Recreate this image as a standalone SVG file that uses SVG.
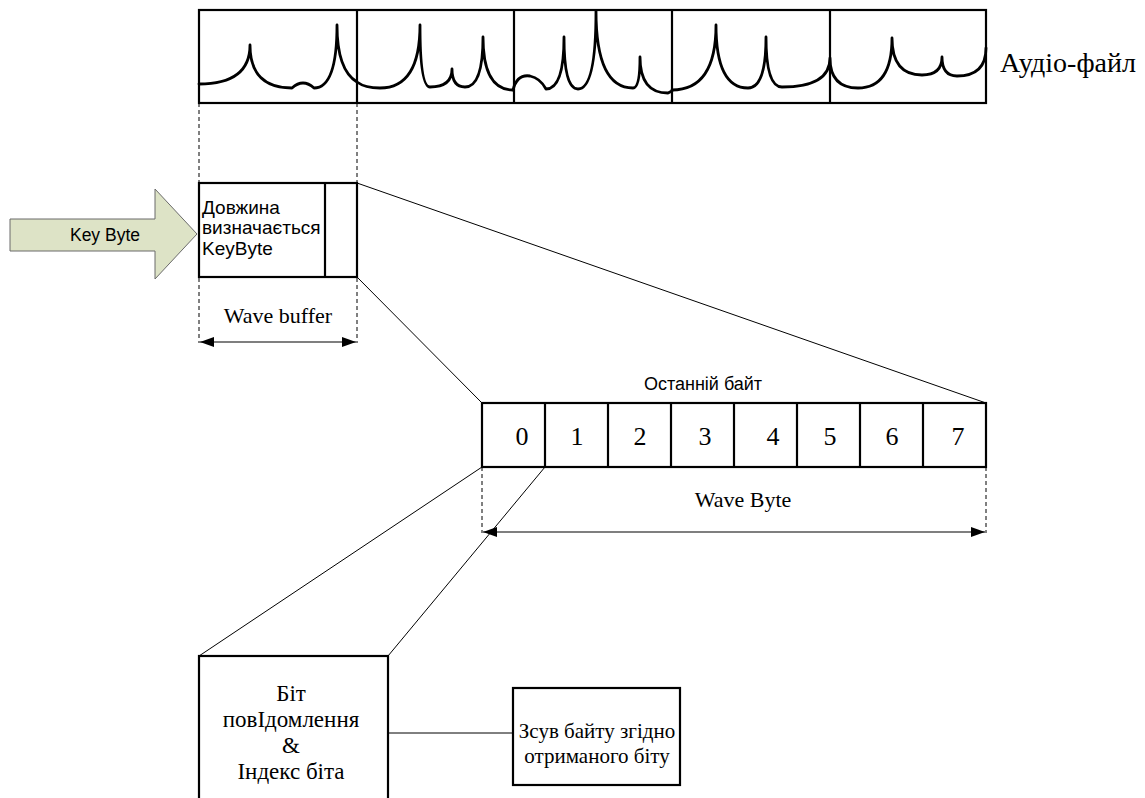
<svg xmlns="http://www.w3.org/2000/svg" width="1145" height="798" viewBox="0 0 1145 798">
<style>
.box{fill:#fff;stroke:#000;stroke-width:2.2}
.thin{fill:none;stroke:#000;stroke-width:1}
.dash{fill:none;stroke:#000;stroke-width:1;stroke-dasharray:4,3}
.wave{fill:none;stroke:#000;stroke-width:2.8;stroke-linejoin:round;stroke-linecap:round}
.serif{font-family:"Liberation Serif","Times New Roman",serif;fill:#000}
.sans{font-family:"Liberation Sans",Arial,sans-serif;fill:#000}
.dim{fill:none;stroke:#000;stroke-width:1.2;marker-start:url(#ah);marker-end:url(#ah)}
</style>
<defs>
<marker id="ah" viewBox="0 0 14 10" refX="14" refY="5" markerWidth="14" markerHeight="10" markerUnits="userSpaceOnUse" orient="auto-start-reverse">
<path d="M0,0 L14,5 L0,10 z" fill="#000"/>
</marker>
</defs>
<rect width="1145" height="798" fill="#fff"/>

<g id="audio-file">
<rect class="box" x="199" y="10" width="787" height="93"/>
<line class="box" x1="357" y1="10" x2="357" y2="103"/>
<line class="box" x1="514" y1="10" x2="514" y2="103"/>
<line class="box" x1="672" y1="10" x2="672" y2="103"/>
<line class="box" x1="830" y1="10" x2="830" y2="103"/>
<path class="wave" d="M199,84 Q250,84 250,45 Q250,88 292,88 Q303,78 314,88 Q337,88 337,25 Q337,70 357,82 Q365,88 380,88 Q420,88 420,25 Q420,87 430,87 Q452,87 452,69 Q452,87 465,87 Q483,87 483,37 Q483,90 513,90"/>
<path class="wave" d="M513,90 Q517,74 530,76 Q540,78 546,89 Q564,89 564,37 Q564,89 578,89 Q596,89 596,11 Q596,88 633,88 Q640,88 640,57 Q640,93 668,93 L672,91"/>
<path class="wave" d="M672,90 Q716,90 716,25 Q716,88 748,88 Q766,88 766,37 Q766,87 782,87 Q830,87 830,58 Q830,88 858,88 Q892,88 892,38 Q892,75 922,75 Q942,75 942,57 Q942,76 957,76 Q986,76 986,48"/>
<text class="serif" x="1000" y="72" font-size="28">Аудіо-файл</text>
</g>

<g id="key-byte">
<polygon points="10,219 155,219 155,189 197,234 155,279 155,251 10,251" fill="#dde3c6" stroke="#6b6b6b" stroke-width="1"/>
<text class="sans" x="105" y="241" font-size="17.5" text-anchor="middle">Key Byte</text>
</g>

<g id="wave-buffer">
<rect class="box" x="199" y="183" width="158" height="94"/>
<line class="box" x1="325" y1="183" x2="325" y2="277"/>
<text class="sans" font-size="19"><tspan x="202" y="214">Довжина</tspan><tspan x="202" y="234">визначається</tspan><tspan x="202" y="255">KeyByte</tspan></text>
<text class="serif" x="278" y="323" font-size="22" text-anchor="middle">Wave buffer</text>
</g>

<g id="wave-byte">
<rect class="box" x="482" y="403" width="504" height="64"/>
<line class="box" x1="545" y1="403" x2="545" y2="467"/>
<line class="box" x1="608" y1="403" x2="608" y2="467"/>
<line class="box" x1="671" y1="403" x2="671" y2="467"/>
<line class="box" x1="734" y1="403" x2="734" y2="467"/>
<line class="box" x1="797" y1="403" x2="797" y2="467"/>
<line class="box" x1="860" y1="403" x2="860" y2="467"/>
<line class="box" x1="923" y1="403" x2="923" y2="467"/>
<g class="serif" font-size="26" text-anchor="middle">
<text x="522" y="445">0</text>
<text x="577" y="445">1</text>
<text x="640" y="445">2</text>
<text x="705" y="445">3</text>
<text x="773" y="445">4</text>
<text x="830" y="445">5</text>
<text x="892" y="445">6</text>
<text x="958" y="445">7</text>
</g>
<text class="sans" x="703" y="390" font-size="18" text-anchor="middle">Останній байт</text>
<text class="serif" x="743" y="507" font-size="22" text-anchor="middle">Wave Byte</text>
</g>

<g id="message-bit">
<rect class="box" x="199" y="656" width="189" height="160"/>
<text class="serif" font-size="23" text-anchor="middle"><tspan x="291" y="701">Біт</tspan><tspan x="291" y="727">повІдомлення</tspan><tspan x="291" y="753">&amp;</tspan><tspan x="291" y="779">Індекс біта</tspan></text>
</g>

<g id="byte-shift">
<rect class="box" x="513" y="688" width="167" height="97"/>
<text class="serif" font-size="21" text-anchor="middle"><tspan x="597" y="738">Зсув байту згідно</tspan><tspan x="597" y="763">отриманого біту</tspan></text>
</g>

<g id="connectors">
<line class="dash" x1="199" y1="103" x2="199" y2="343"/>
<line class="dash" x1="357" y1="103" x2="357" y2="343"/>
<line class="dim" x1="200" y1="342" x2="356" y2="342"/>
<line class="thin" x1="357" y1="183" x2="986" y2="403"/>
<line class="thin" x1="357" y1="277" x2="482" y2="403"/>
<line class="dash" x1="482" y1="467" x2="482" y2="533"/>
<line class="dash" x1="986" y1="467" x2="986" y2="533"/>
<line class="dim" x1="483" y1="532" x2="985" y2="532"/>
<line class="thin" x1="482" y1="467" x2="199" y2="656"/>
<line class="thin" x1="545" y1="467" x2="388" y2="656"/>
<line class="thin" x1="388" y1="733" x2="513" y2="733"/>
</g>
</svg>
